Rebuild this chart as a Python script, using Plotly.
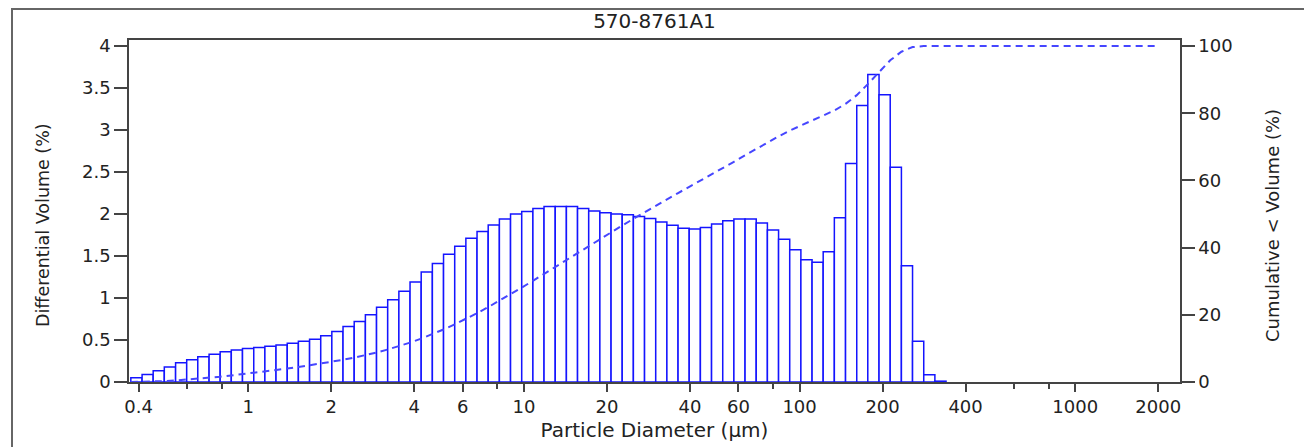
import plotly.graph_objects as go

chart_title = "570-8761A1"
x_title = "Particle Diameter (µm)"
y_title = "Differential Volume (%)"
y2_title = "Cumulative < Volume (%)"

# channel edges (µm)
edges = [0.375, 0.412, 0.452, 0.496, 0.545, 0.598, 0.656, 0.721, 0.791, 0.868,
         0.953, 1.047, 1.149, 1.261, 1.385, 1.520, 1.669, 1.832, 2.010, 2.207,
         2.423, 2.660, 2.920, 3.205, 3.519, 3.863, 4.240, 4.655, 5.110, 5.610,
         6.158, 6.760, 7.421, 8.147, 8.943, 9.818, 10.78, 11.83, 12.99, 14.26,
         15.65, 17.18, 18.86, 20.71, 22.73, 24.95, 27.39, 30.07, 33.01, 36.24,
         39.78, 43.67, 47.94, 52.63, 57.77, 63.42, 69.62, 76.43, 83.90, 92.10,
         101.1, 111.0, 121.8, 133.7, 146.8, 161.2, 176.8, 194.2, 213.2, 234.1,
         256.9, 282.1, 309.6, 339.9]

# differential volume (%) per channel
diff_volume = [0.05, 0.09, 0.135, 0.18, 0.23, 0.265, 0.30, 0.33, 0.36, 0.38,
               0.40, 0.41, 0.425, 0.44, 0.46, 0.485, 0.51, 0.55, 0.60, 0.66,
               0.72, 0.80, 0.89, 0.98, 1.08, 1.19, 1.31, 1.41, 1.52,
               1.615, 1.71, 1.79, 1.87, 1.94, 2.00, 2.03, 2.065, 2.09, 2.09,
               2.09, 2.065, 2.035, 2.015, 2.00, 1.99, 1.97, 1.945, 1.905, 1.865,
               1.83, 1.82, 1.84, 1.88, 1.92, 1.94, 1.94,
               1.893, 1.81, 1.70, 1.575, 1.456, 1.425, 1.55, 1.956, 2.60, 3.29,
               3.66, 3.42, 2.555, 1.385, 0.485, 0.087, 0.01]

# cumulative < volume (%) at channel edges
cumulative = [0, 0.05, 0.14, 0.28, 0.46, 0.69, 0.95, 1.25, 1.58, 1.94, 2.32,
              2.72, 3.13, 3.56, 4.0, 4.46, 4.94, 5.45, 6.0, 6.6, 7.26, 7.98,
              8.78, 9.67, 10.65, 11.73, 12.92, 14.23, 15.64, 17.16,
              18.78, 20.49, 22.28, 24.15, 26.09, 28.09, 30.12, 32.19, 34.28,
              36.37, 38.46, 40.52, 42.56, 44.57, 46.57, 48.56, 50.53, 52.48,
              54.38, 56.25, 58.08, 59.9, 61.74, 63.62, 65.54, 67.48, 69.42,
              71.31, 73.12, 74.82, 76.4, 77.85, 79.28, 80.83, 82.78, 85.38,
              88.67, 92.33, 95.75, 98.31, 99.69, 100.0, 100.0, 100.0]
cum_end_diam = 2000.0
cum_end_value = 100.0

x_tickvals = [0.4, 1, 2, 4, 6, 10, 20, 40, 60, 100, 200, 400, 1000, 2000]
x_ticktext = ["0.4", "1", "2", "4", "6", "10", "20", "40", "60", "100", "200",
              "400", "1000", "2000"]
x_minor = [0.6, 0.8, 8, 80, 600, 800]
y_tickvals = [0, 0.5, 1, 1.5, 2, 2.5, 3, 3.5, 4]
y_ticktext = ["0", "0.5", "1", "1.5", "2", "2.5", "3", "3.5", "4"]
y2_tickvals = [0, 20, 40, 60, 80, 100]
y2_ticktext = ["0", "20", "40", "60", "80", "100"]

mids = [(a + b) / 2 for a, b in zip(edges[:-1], edges[1:])]
widths = [b - a for a, b in zip(edges[:-1], edges[1:])]

BLUE = "#1414ff"
DASH_BLUE = "#4646ff"
AX = "#444444"
TXT = "#222222"
FONT = "DejaVu Sans"

# plot area geometry (figure pixels; page adds 8px body margin)
L, T, W, H = 121, 32, 1051, 342

fig = go.Figure()
fig.add_trace(go.Bar(
    x=mids, y=diff_volume, width=widths,
    marker=dict(color="white", line=dict(color=BLUE, width=1.5)),
    yaxis="y", showlegend=False,
))
fig.add_trace(go.Scatter(
    x=edges + [cum_end_diam], y=cumulative + [cum_end_value],
    mode="lines", line=dict(color=DASH_BLUE, width=2, dash="7px,5px"),
    yaxis="y2", showlegend=False,
))

fig.update_layout(
    width=1312, height=447,
    margin=dict(l=L, r=1312 - L - W, t=T, b=447 - T - H),
    paper_bgcolor="white", plot_bgcolor="white",
    font=dict(family=FONT, size=18, color=TXT),
    title=dict(text=chart_title, x=0.5, xref="paper", xanchor="center",
               y=1 - 13 / 447, yref="container", yanchor="middle",
               font=dict(size=20, family=FONT, color=TXT)),
    xaxis=dict(
        type="log", range=[-0.4326, 3.380],
        showline=True, linecolor=AX, linewidth=1.5, mirror=True,
        ticks="outside", ticklen=8, tickcolor=AX, tickwidth=1.5,
        tickvals=x_tickvals, ticktext=x_ticktext,
        minor=dict(tickvals=x_minor, ticks="outside", ticklen=5,
                   tickcolor=AX, tickwidth=1.5, showgrid=False),
        showgrid=False, zeroline=False,
        title=dict(text=x_title, standoff=7, font=dict(size=20)),
        tickfont=dict(size=18),
    ),
    yaxis=dict(
        range=[0, 4.071],
        showline=True, linecolor=AX, linewidth=1.5,
        ticks="outside", ticklen=13, tickcolor=AX, tickwidth=1.5,
        tickvals=y_tickvals, ticktext=y_ticktext,
        showgrid=False, zeroline=False,
        tickfont=dict(size=18),
    ),
    yaxis2=dict(
        overlaying="y", side="right", range=[0, 101.8],
        showline=True, linecolor=AX, linewidth=1.5,
        ticks="outside", ticklen=13, tickcolor=AX, tickwidth=1.5,
        tickvals=y2_tickvals, ticktext=y2_ticktext,
        showgrid=False, zeroline=False,
        tickfont=dict(size=18),
    ),
    annotations=[
        dict(text=y_title, textangle=-90, showarrow=False,
             xref="paper", yref="paper",
             x=(35 - L) / W, y=(T + H - 217) / H,
             xanchor="center", yanchor="middle",
             font=dict(size=17.5, color=TXT)),
        dict(text=y2_title, textangle=-90, showarrow=False,
             xref="paper", yref="paper",
             x=(1264 - L) / W, y=(T + H - 218) / H,
             xanchor="center", yanchor="middle",
             font=dict(size=18, color=TXT)),
    ],
    shapes=[dict(type="rect", xref="paper", yref="paper",
                 x0=(4 - L) / W, x1=(1300 - L) / W,
                 y0=-0.4, y1=(T + H - 1) / H,
                 line=dict(color="#666666", width=2), fillcolor="rgba(0,0,0,0)",
                 layer="below")],
)

fig.write_html("out.html")
